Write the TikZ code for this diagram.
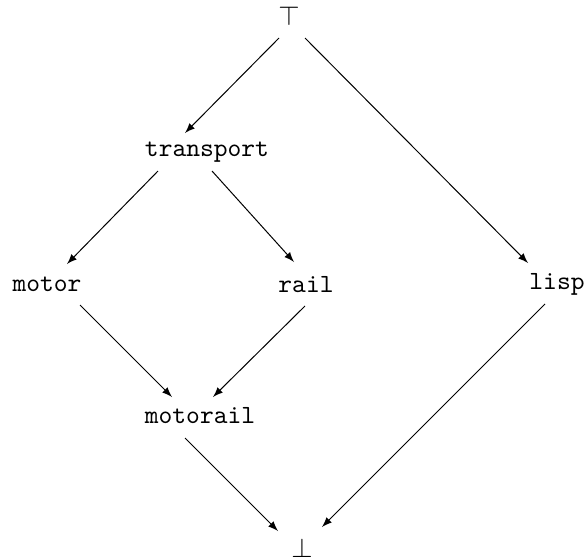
\documentclass[tikz,border=0pt]{standalone}
\usepackage{tikz}
\usetikzlibrary{arrows}
\usetikzlibrary{calc}
\newcommand{\drawLatticeArrow}[4]{
	\draw[-latex] ($(#1)+(#2)$) -- ($(#3)+(#4)$);
}
\newcommand{\drawElem}[3]{
	\node[inner sep=0pt, font=\fontsize{10.5}{12}\selectfont\ttfamily] (#1) at (#2) {#3};
}

\begin{document}
\begin{tikzpicture}[x=0.4pt,y=-0.4pt]
		\useasboundingbox (0,0) rectangle (587,560);

		\drawElem{N_top}{289,16}{$\top$}
		\drawElem{N_transport}{207,152}{transport}
		\drawElem{N_motor}{47,284}{motor}
		\drawElem{N_rail}{306,285}{rail}
		\drawElem{N_lisp}{557,284}{lisp}
		\drawElem{N_motorail}{200,416}{motorail}
		\drawElem{N_bot}{302,548}{$\bot$}

		\drawLatticeArrow {N_top}{-10,22}{N_transport}{-22,-19}
		\drawLatticeArrow {N_top}{16,22}{N_lisp}{-29,-21}
		\drawLatticeArrow {N_transport}{-49,19}{N_motor}{20,-20}
		\drawLatticeArrow {N_transport}{5,19}{N_rail}{-12,-23}
		\drawLatticeArrow {N_motor}{33,21}{N_motorail}{-28,-19}
		\drawLatticeArrow {N_rail}{-1,21}{N_motorail}{13,-19}
		\drawLatticeArrow {N_motorail}{-15,22}{N_bot}{-24,-17}
		\drawLatticeArrow {N_lisp}{-12,20}{N_bot}{20,-21}

	\end{tikzpicture}
\end{document}
